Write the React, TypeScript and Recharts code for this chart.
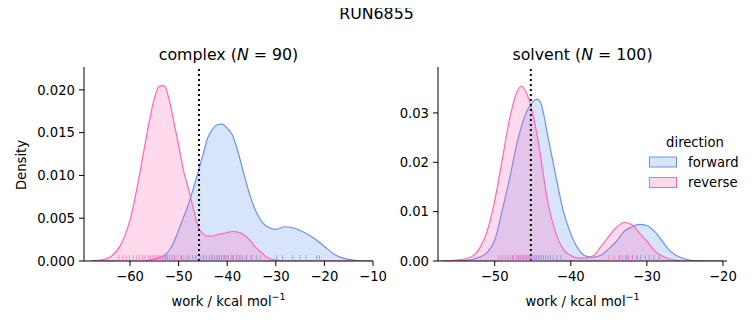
import { ComposedChart, Area, Scatter, XAxis, YAxis, ReferenceLine } from 'recharts'

// complex leg: KDE
const complexX = [-68, -66, -64, -62, -60, -59, -58, -57, -56, -55, -54, -53, -52, -51, -50, -49, -48, -47, -46, -45, -44, -43, -42, -41, -40, -39, -38, -37, -36, -35, -34, -33, -32, -30, -28, -26, -24, -22, -20, -18, -16, -14, -12, -10]
const complexForward = [0, 0, 0, 0, 0, 0, 0, 0, 0.0001, 0.0002, 0.0004, 0.0006, 0.0012, 0.0022, 0.0036, 0.0051, 0.0066, 0.0084, 0.0104, 0.0124, 0.0144, 0.0154, 0.01595, 0.016, 0.0155, 0.0148, 0.0132, 0.0111, 0.009, 0.0071, 0.0057, 0.0047, 0.0041, 0.0037, 0.004, 0.0038, 0.0033, 0.0026, 0.0017, 0.0008, 0.0003, 0.0001, 0, 0]
const complexReverse = [0, 0.0001, 0.0005, 0.0018, 0.0048, 0.0073, 0.0102, 0.0134, 0.0164, 0.019, 0.0204, 0.0205, 0.019, 0.0163, 0.0135, 0.0106, 0.0085, 0.0062, 0.004, 0.0032, 0.0029, 0.0029, 0.0031, 0.0032, 0.0033, 0.00345, 0.0034, 0.0032, 0.0028, 0.0022, 0.0015, 0.001, 0.0005, 0.0001, 0, 0, 0, 0, 0, 0, 0, 0, 0, 0]
const complexRugForward = [-52.6, -50.9, -49.4, -48.2, -47.1, -46.4, -45.6, -44.9, -44.3, -43.7, -43.2, -42.6, -42.1, -41.6, -41.2, -40.7, -40.3, -39.8, -39.2, -38.7, -38.1, -37.5, -36.8, -36.0, -35.1, -34.0, -29.8, -28.6, -26.5, -25.0, -23.8, -21.6, -21.0]
const complexRugReverse = [-62.3, -61.5, -60.8, -60.1, -59.3, -58.6, -58.0, -57.4, -56.9, -56.2, -55.8, -55.3, -54.9, -54.5, -54.1, -53.8, -53.4, -53.0, -52.7, -52.3, -51.9, -51.4, -50.8, -50.3, -49.6, -48.9, -47.8, -46.5, -44.8, -43.1, -41.9, -40.6, -39.8, -38.9, -38.0, -37.2, -36.1, -34.9, -33.2]
const complexEstimate = -45.8

// solvent leg
const solventX = [-57, -56, -55, -54, -53, -52, -51, -50, -49, -48, -47, -46.5, -46, -45, -44.5, -44, -43, -42, -41, -40, -39, -38, -37, -36, -35, -34, -33, -32, -31, -30, -29, -28, -27, -26, -25, -24, -22, -20]
const solventForward = [0, 0, 0, 0.0001, 0.0003, 0.0008, 0.0017, 0.0042, 0.0103, 0.017, 0.0244, 0.0272, 0.0295, 0.0322, 0.0328, 0.0322, 0.0252, 0.0175, 0.0102, 0.0055, 0.0024, 0.001, 0.0008, 0.0012, 0.0025, 0.004, 0.006, 0.0069, 0.0074, 0.0072, 0.006, 0.0041, 0.0021, 0.001, 0.0004, 0.0001, 0, 0]
const solventReverse = [0, 0.0001, 0.0002, 0.0004, 0.0009, 0.0025, 0.006, 0.0122, 0.0206, 0.0291, 0.0345, 0.0354, 0.0346, 0.0299, 0.0261, 0.0215, 0.0118, 0.0058, 0.0024, 0.0011, 0.0006, 0.0006, 0.0011, 0.003, 0.005, 0.0068, 0.0078, 0.0074, 0.0057, 0.004, 0.0021, 0.001, 0.0004, 0.0001, 0, 0, 0, 0]
const solventRugForward = [-47.6, -46.9, -46.3, -45.8, -45.4, -45.1, -44.8, -44.5, -44.2, -43.9, -43.6, -43.3, -43.0, -42.7, -42.3, -41.8, -41.3, -33.5, -32.6, -31.9, -31.3, -30.8, -30.2, -29.7, -29.1, -28.4]
const solventRugReverse = [-49.4, -49.0, -48.6, -48.3, -48.0, -47.7, -47.5, -47.2, -47.0, -46.8, -46.6, -46.4, -46.2, -46.0, -45.8, -45.6, -45.4, -45.1, -44.7, -44.2, -43.6, -35.0, -34.3, -33.7, -33.2, -32.8, -32.4, -31.9, -31.3]
const solventEstimate = -45.25

const complexXTicks = [-60, -50, -40, -30, -20, -10]
const complexYTicks = [0, 0.005, 0.01, 0.015, 0.02]
const solventXTicks = [-50, -40, -30, -20]
const solventYTicks = [0, 0.01, 0.02, 0.03]

const BLUE = '#6495ed'
const PINK = '#ff69b4'
const FONT = '"DejaVu Sans", sans-serif'

const minus = (v: number) => String(v).replace('-', '\u2212')

const rugShape = (color: string) => (props: any) => (
  <line x1={props.cx} x2={props.cx} y1={props.cy} y2={props.cy - 6} stroke={color} strokeOpacity={0.7} strokeWidth={1} />
)

interface PanelProps {
  xs: number[]
  fwd: number[]
  rev: number[]
  rugFwd: number[]
  rugRev: number[]
  estimate: number
  xDomain: [number, number]
  yDomain: [number, number]
  xTicks: number[]
  yTicks: number[]
  digits: number
  width: number
  yAxisWidth: number
  rightMargin: number
}

function Panel(p: PanelProps) {
  const data = p.xs.map((x, i) => ({ x, forward: p.fwd[i], reverse: p.rev[i] }))
  const tick = { fontSize: 13.2, fill: '#000', fontFamily: FONT }
  return (
    <ComposedChart width={p.width} height={325} data={data} margin={{ top: 67, right: p.rightMargin, left: 0, bottom: 0 }}>
      <XAxis
        type="number"
        dataKey="x"
        domain={p.xDomain}
        ticks={p.xTicks}
        allowDataOverflow
        height={64}
        tick={tick}
        tickSize={5}
        tickMargin={6}
        tickFormatter={minus}
        stroke="#000"
        tickLine={{ stroke: '#000' }}
        interval={0}
      />
      <YAxis
        type="number"
        domain={p.yDomain}
        ticks={p.yTicks}
        allowDataOverflow
        width={p.yAxisWidth}
        tick={tick}
        tickSize={5}
        tickMargin={4}
        tickFormatter={(v: number) => v.toFixed(p.digits)}
        stroke="#000"
        tickLine={{ stroke: '#000' }}
        interval={0}
      />
      <Area type="monotone" dataKey="forward" stroke={BLUE} strokeWidth={1.2} fill={BLUE} fillOpacity={0.25} dot={false} activeDot={false} isAnimationActive={false} />
      <Area type="monotone" dataKey="reverse" stroke={PINK} strokeWidth={1.2} fill={PINK} fillOpacity={0.25} dot={false} activeDot={false} isAnimationActive={false} />
      <Scatter data={p.rugFwd.map((x) => ({ x, y: 0 }))} dataKey="y" shape={rugShape(BLUE)} isAnimationActive={false} />
      <Scatter data={p.rugRev.map((x) => ({ x, y: 0 }))} dataKey="y" shape={rugShape(PINK)} isAnimationActive={false} />
      <ReferenceLine x={p.estimate} stroke="#000" strokeWidth={2} strokeDasharray="2 3" />
    </ComposedChart>
  )
}

export default function App() {
  return (
    <div style={{ position: 'relative', width: 753, height: 325, margin: -8, background: '#fff', fontFamily: FONT }}>
      <div style={{ position: 'absolute', left: 0, top: 0 }}>
        <Panel
          xs={complexX}
          fwd={complexForward}
          rev={complexReverse}
          rugFwd={complexRugForward}
          rugRev={complexRugReverse}
          estimate={complexEstimate}
          xDomain={[-69.47, -10]}
          yDomain={[0, 0.02267]}
          xTicks={complexXTicks}
          yTicks={complexYTicks}
          digits={3}
          width={400}
          yAxisWidth={84}
          rightMargin={27}
        />
      </div>
      <div style={{ position: 'absolute', left: 380, top: 0 }}>
        <Panel
          xs={solventX}
          fwd={solventForward}
          rev={solventReverse}
          rugFwd={solventRugForward}
          rugRev={solventRugReverse}
          estimate={solventEstimate}
          xDomain={[-57.45, -19.47]}
          yDomain={[0, 0.0393]}
          xTicks={solventXTicks}
          yTicks={solventYTicks}
          digits={2}
          width={373}
          yAxisWidth={58}
          rightMargin={26}
        />
      </div>
      <svg width={753} height={325} style={{ position: 'absolute', left: 0, top: 0, pointerEvents: 'none' }} fontFamily={FONT} fill="#000">
        <text x={376.5} y={19} textAnchor="middle" fontSize={15.8}>RUN6855</text>
        <text x={228.5} y={60} textAnchor="middle" fontSize={15.8}>
          complex (<tspan fontStyle="italic">N</tspan> = 90)
        </text>
        <text x={582.5} y={60} textAnchor="middle" fontSize={15.8}>
          solvent (<tspan fontStyle="italic">N</tspan> = 100)
        </text>
        <text x={228.5} y={306} textAnchor="middle" fontSize={13.2}>
          work / kcal mol<tspan dy={-6} fontSize={9.5}>{'\u22121'}</tspan>
        </text>
        <text x={582.5} y={306} textAnchor="middle" fontSize={13.2}>
          work / kcal mol<tspan dy={-6} fontSize={9.5}>{'\u22121'}</tspan>
        </text>
        <text transform="rotate(-90)" x={-165} y={26} textAnchor="middle" fontSize={13.2}>Density</text>
        {/* legend */}
        <text x={695} y={146.5} textAnchor="middle" fontSize={13.2}>direction</text>
        <rect x={649.5} y={157} width={27} height={10} fill={BLUE} fillOpacity={0.25} stroke={BLUE} strokeWidth={1} />
        <text x={688} y={166.5} fontSize={13.2}>forward</text>
        <rect x={649.5} y={177.5} width={27} height={10} fill={PINK} fillOpacity={0.25} stroke={PINK} strokeWidth={1} />
        <text x={688} y={187} fontSize={13.2}>reverse</text>
      </svg>
    </div>
  )
}
